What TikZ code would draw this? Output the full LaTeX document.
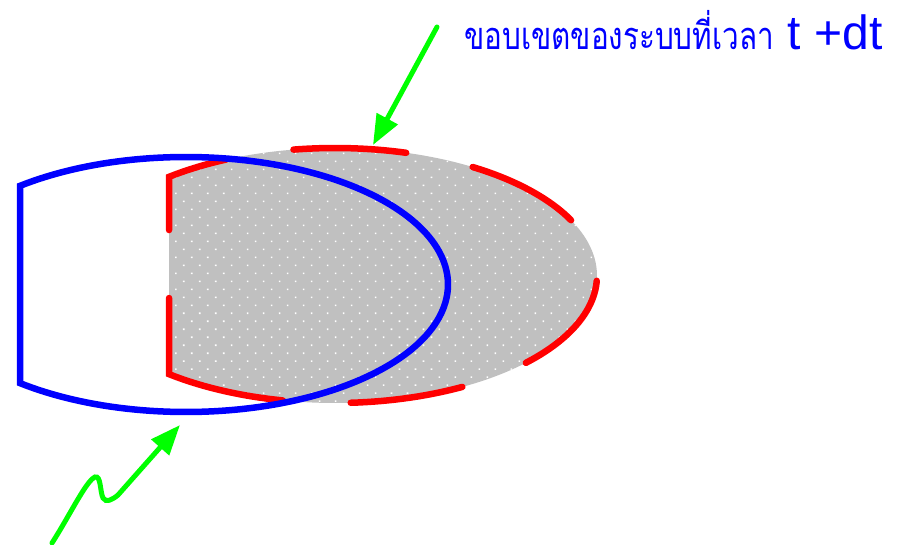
\documentclass[tikz,border=0pt]{standalone}
\usepackage{fontspec}
\newfontfamily\thaifont[Script=Thai]{Loma}
\newfontfamily\arialfont{Liberation Sans}
\usepackage{tikz}
\usetikzlibrary{arrows.meta, patterns.meta}
\definecolor{silver}{RGB}{192,192,192}

\begin{document}
\begin{tikzpicture}[x=1pt, y=-1pt,
    sysold/.style={draw=blue, line width=6.5pt},
    sysnew/.style={draw=red, line width=6.5pt, line cap=round, dash pattern=on 113pt off 68pt},
    region/.style={fill=silver, postaction={pattern={Dots[distance=11.3pt, angle=45, radius=1.1pt]}, pattern color=white}},
    pointer/.style={draw=green, line width=5pt, line cap=round, -{Triangle[length=30pt, width=23pt]}}
  ]
  \useasboundingbox (0,0) rectangle (900,545);

  % system at time t+dt
  \path[region] plot[domain=230.7:489.3, samples=150] ({335+262*cos(\x)},{275.5+127.5*sin(\x)}) -- cycle;
  \draw[sysnew] plot[domain=480:489.3, samples=8] ({335+262*cos(\x)},{275.5+127.5*sin(\x)})
    -- plot[domain=230.7:480, samples=150] ({335+262*cos(\x)},{275.5+127.5*sin(\x)});

  % system at time t
  \draw[sysold] plot[domain=230.7:489.3, samples=150] ({186+262*cos(\x)},{284.5+127.5*sin(\x)}) -- cycle;

  % label
  \node[anchor=base west, inner sep=0pt, text=blue] (lbl) at (464,50)
    {\scalebox{0.78}[1]{\thaifont\fontsize{38}{42}\selectfont ขอบเขตของระบบที่เวลา}\hspace{14pt}\arialfont\fontsize{48}{52}\selectfont t +dt};

  % pointers
  \coordinate (tail1) at (437,27);
  \coordinate (tip1) at (373,145);
  \draw[pointer] (tail1) -- (tip1);
  \coordinate (tail2) at (52,543);
  \coordinate (tip2) at (180,425);
  \draw[pointer] (tail2) .. controls (70,515) and (86,481) .. (95,477)
    .. controls (101,475) and (100,492) .. (103,498)
    .. controls (106,503) and (112,500) .. (118,495) -- (tip2);
\end{tikzpicture}
\end{document}
